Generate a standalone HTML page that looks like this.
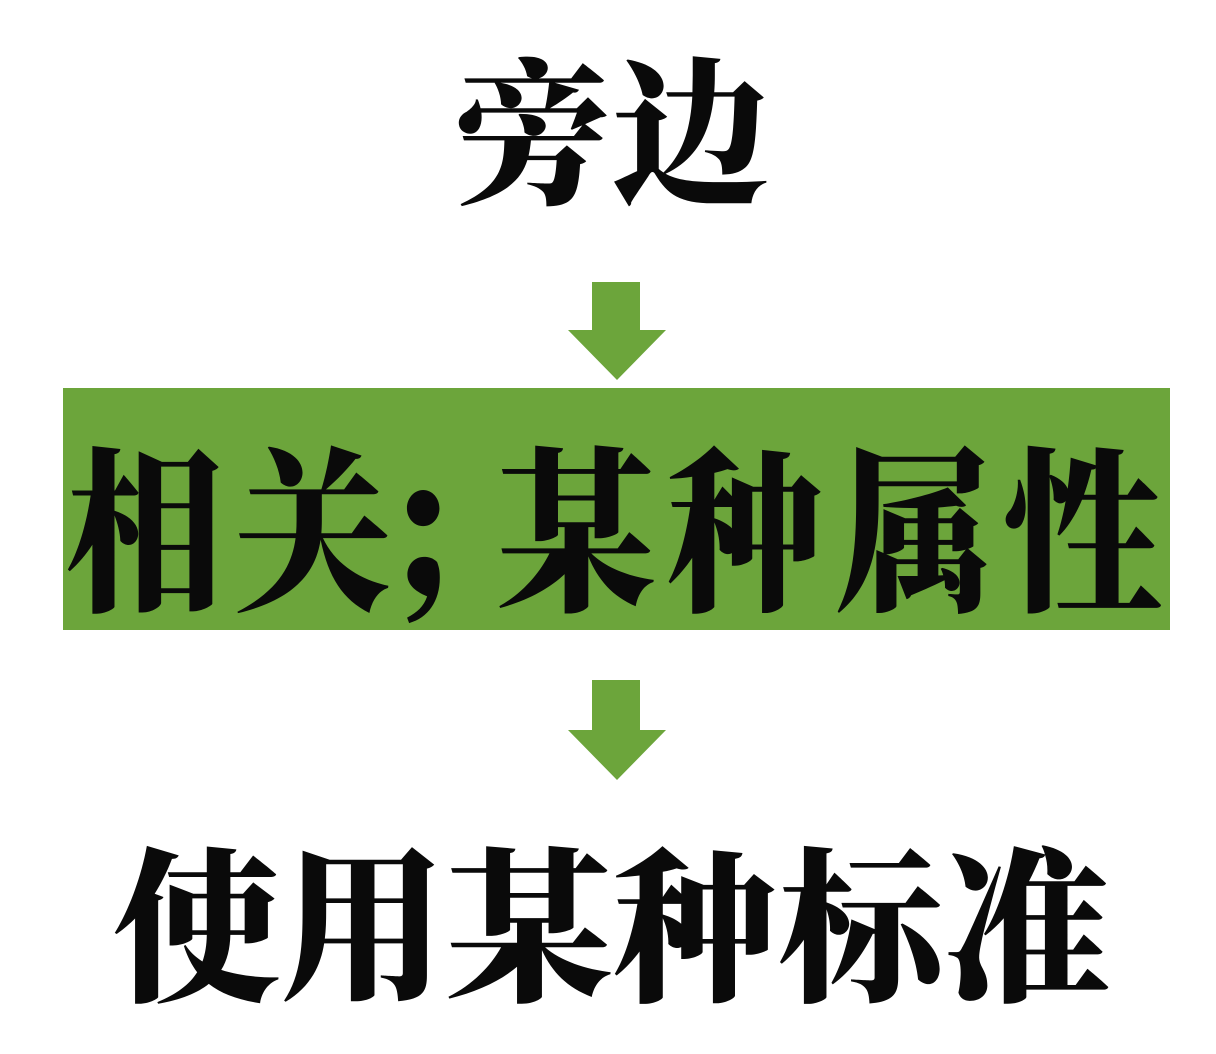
<!DOCTYPE html>
<html>
<head>
<meta charset="utf-8">
<style>
  html, body { margin:0; padding:0; width:1216px; height:1054px; background:#fff; overflow:hidden; }
  .t { position:absolute; font-family:"Liberation Serif","Noto Serif CJK SC",serif; font-weight:900; color:#0a0a0a; white-space:nowrap; line-height:1; }
  .m { font-size:158px; transform:scaleY(1.12); transform-origin:0 0; top:450px; }
</style>
</head>
<body>
<div class="t" style="left:454px; top:60px; font-size:158px; letter-spacing:0px;">旁边</div>

<svg style="position:absolute; left:0; top:0;" width="1216" height="1054">
  <polygon points="592,282 640,282 640,330 666,330 617,380 568,330 592,330" fill="#6ca53b"/>
  <rect x="63" y="388" width="1107" height="242" fill="#6ca53b"/>
  <polygon points="592,680 640,680 640,730 666,730 617,780 568,730 592,730" fill="#6ca53b"/>
</svg>

<div class="t m" style="left:66px; letter-spacing:10px;">相关</div>
<div class="t m" style="left:378px;">；</div>
<div class="t m" style="left:497px; letter-spacing:11px;">某种属性</div>

<div class="t" style="left:114px; top:849px; font-size:166px; letter-spacing:0px;">使用某种标准</div>
</body>
</html>
